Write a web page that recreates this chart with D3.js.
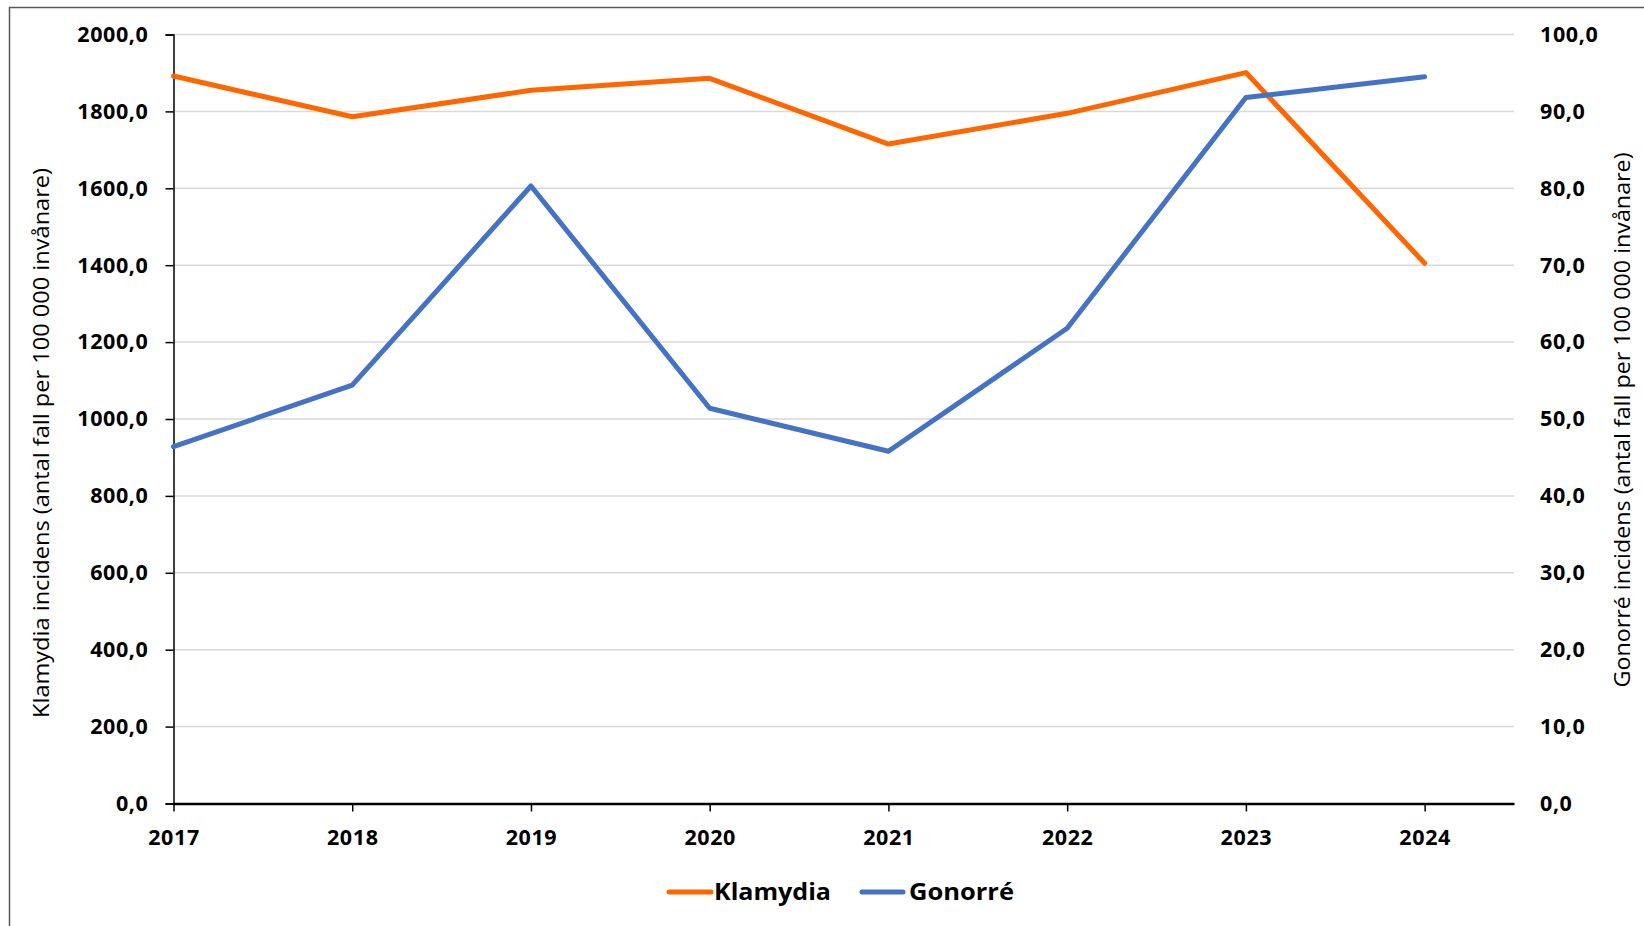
<!DOCTYPE html>
<html>
<head>
<meta charset="utf-8">
<script src="https://cdn.jsdelivr.net/npm/d3@7"></script>
<style>
  html, body { margin: 0; padding: 0; background: #fff; }
  svg { display: block; }
  text { font-family: "Open Sans", "Liberation Sans", sans-serif; fill: #000; }
</style>
</head>
<body>
<svg id="chart" width="1644" height="926"></svg>
<script>
// ---- data ----
const years = ["2017", "2018", "2019", "2020", "2021", "2022", "2023", "2024"];
const klamydia = [1892, 1786, 1855, 1886, 1715, 1795, 1901, 1405];
const gonorre = [46.4, 54.4, 80.3, 51.4, 45.8, 61.8, 91.8, 94.5];
const leftTicks = [0, 200, 400, 600, 800, 1000, 1200, 1400, 1600, 1800, 2000];
const rightTicks = [0, 10, 20, 30, 40, 50, 60, 70, 80, 90, 100];
const seriesNames = ["Klamydia", "Gonorré"];
const leftTitle = "Klamydia incidens (antal fall per 100 000 invånare)";
const rightTitle = "Gonorré incidens (antal fall per 100 000 invånare)";

// ---- layout ----
const W = 1644, H = 926;
const plot = { left: 173.5, right: 1514, top: 34.5, bottom: 803.5 };
const colors = { Klamydia: "#FF6600", "Gonorré": "#4472C4" };
const fmt = v => d3.format(".1f")(v).replace(".", ",");

const svg = d3.select("#chart");

// outer border (left + top visible)
svg.append("rect")
  .attr("x", 9.5).attr("y", 7.5)
  .attr("width", W + 20).attr("height", H + 20)
  .attr("fill", "none").attr("stroke", "#595959").attr("stroke-width", 1.5);

const x = d3.scaleLinear().domain([0, years.length - 0.5]).range([plot.left, plot.right]);
const yL = d3.scaleLinear().domain([0, 2000]).range([plot.bottom, plot.top]);
const yR = d3.scaleLinear().domain([0, 100]).range([plot.bottom, plot.top]);

// gridlines
svg.append("g").selectAll("line").data(leftTicks.filter(d => d > 0)).join("line")
  .attr("x1", plot.left).attr("x2", plot.right)
  .attr("y1", d => yL(d)).attr("y2", d => yL(d))
  .attr("stroke", "#d9d9d9").attr("stroke-width", 1.5);

const tickStyle = sel => sel.attr("font-size", 21.5).attr("font-weight", 700)
  .attr("font-family", "'Open Sans', sans-serif").attr("letter-spacing", 0.6);

// left axis
const gL = svg.append("g").attr("transform", `translate(${plot.left},0)`)
  .call(d3.axisLeft(yL).tickValues(leftTicks).tickFormat(fmt).tickSize(8).tickPadding(17));
gL.select(".domain").attr("stroke", "#000").attr("stroke-width", 1.5);
gL.selectAll(".tick line").attr("stroke", "#000").attr("stroke-width", 1.5);
gL.selectAll(".tick text").call(tickStyle);

// right axis
const gR = svg.append("g").attr("transform", `translate(${plot.right},0)`)
  .call(d3.axisRight(yR).tickValues(rightTicks).tickFormat(fmt).tickSize(0).tickPadding(26));
gR.select(".domain").remove();
gR.selectAll(".tick text").call(tickStyle);

// bottom axis
const gB = svg.append("g").attr("transform", `translate(0,${plot.bottom})`)
  .call(d3.axisBottom(x).tickValues(d3.range(years.length)).tickFormat(i => years[i]).tickSize(8).tickPadding(18).tickSizeOuter(0));
gB.select(".domain").attr("stroke", "#000").attr("stroke-width", 2.5);
gB.selectAll(".tick line").attr("stroke", "#000").attr("stroke-width", 1.5);
gB.selectAll(".tick text").call(tickStyle);

// lines
const lineK = d3.line().x((d, i) => x(i)).y(d => yL(d));
const lineG = d3.line().x((d, i) => x(i)).y(d => yR(d));
svg.append("path").datum(klamydia).attr("d", lineK)
  .attr("fill", "none").attr("stroke", colors.Klamydia).attr("stroke-width", 5)
  .attr("stroke-linejoin", "round").attr("stroke-linecap", "round");
svg.append("path").datum(gonorre).attr("d", lineG)
  .attr("fill", "none").attr("stroke", colors["Gonorré"]).attr("stroke-width", 5)
  .attr("stroke-linejoin", "round").attr("stroke-linecap", "round");

// axis titles
svg.append("text")
  .attr("transform", `translate(49,443) rotate(-90)`)
  .attr("text-anchor", "middle")
  .attr("font-size", 21.5)
  .attr("textLength", 550).attr("lengthAdjust", "spacingAndGlyphs")
  .text(leftTitle);
svg.append("text")
  .attr("transform", `translate(1630,420) rotate(-90)`)
  .attr("text-anchor", "middle")
  .attr("font-size", 21.5)
  .attr("textLength", 535).attr("lengthAdjust", "spacingAndGlyphs")
  .text(rightTitle);

// legend
const legendItems = [
  { name: seriesNames[0], x0: 669, x1: 711, tx: 714, len: 117 },
  { name: seriesNames[1], x0: 862, x1: 903, tx: 909, len: 105 }
];
const lg = svg.append("g");
legendItems.forEach(it => {
  lg.append("line").attr("x1", it.x0).attr("x2", it.x1).attr("y1", 892).attr("y2", 892)
    .attr("stroke", colors[it.name]).attr("stroke-width", 5).attr("stroke-linecap", "round");
  lg.append("text").attr("x", it.tx).attr("y", 892).attr("dy", "0.35em")
    .attr("font-size", 24).attr("font-weight", 700)
    .attr("textLength", it.len).attr("lengthAdjust", "spacingAndGlyphs")
    .text(it.name);
});
</script>
</body>
</html>
